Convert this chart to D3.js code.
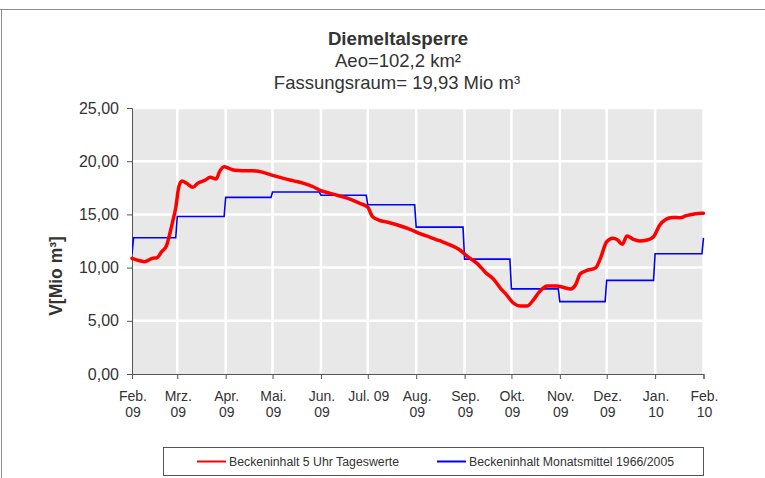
<!DOCTYPE html>
<html>
<head>
<meta charset="utf-8">
<script src="https://cdn.jsdelivr.net/npm/d3@7"></script>
<style>
  body { margin: 0; background: #fff; }
  text { font-family: "Liberation Sans", Arial, sans-serif; fill: #333; }
</style>
</head>
<body>
<svg id="chart" width="765" height="478"></svg>
<script>
// Beckeninhalt 5 Uhr Tageswerte
var dailyDates = [
  "2009-01-31", "2009-02-05", "2009-02-08", "2009-02-13", "2009-02-16", "2009-02-19",
  "2009-02-22", "2009-02-24", "2009-02-26", "2009-02-28", "2009-03-02", "2009-03-04",
  "2009-03-07", "2009-03-11", "2009-03-14", "2009-03-19", "2009-03-22", "2009-03-26",
  "2009-03-28", "2009-03-31", "2009-04-03", "2009-04-07", "2009-04-12", "2009-04-18",
  "2009-04-25", "2009-05-01", "2009-05-08", "2009-05-14", "2009-05-21", "2009-05-27",
  "2009-05-31", "2009-06-07", "2009-06-13", "2009-06-20", "2009-06-26", "2009-07-01",
  "2009-07-04", "2009-07-08", "2009-07-15", "2009-07-22", "2009-07-28", "2009-08-03",
  "2009-08-10", "2009-08-16", "2009-08-23", "2009-08-29", "2009-09-03", "2009-09-09",
  "2009-09-15", "2009-09-19", "2009-09-24", "2009-09-28", "2009-10-02", "2009-10-07",
  "2009-10-11", "2009-10-15", "2009-10-19", "2009-10-24", "2009-10-30", "2009-11-03",
  "2009-11-08", "2009-11-11", "2009-11-14", "2009-11-18", "2009-11-24", "2009-11-27",
  "2009-12-01", "2009-12-05", "2009-12-08", "2009-12-11", "2009-12-14", "2009-12-18",
  "2009-12-22", "2009-12-27", "2009-12-31", "2010-01-04", "2010-01-08", "2010-01-12",
  "2010-01-17", "2010-01-21", "2010-01-26", "2010-01-31", "2010-02-01"
];
var dailyValues = [
  10.87, 10.65, 10.56, 10.87, 10.93, 11.5,
  12.03, 13.06, 14.3, 15.6, 17.6, 18.14,
  17.92, 17.55, 17.92, 18.23, 18.48, 18.33,
  19.0, 19.48, 19.33, 19.14, 19.1, 19.1,
  18.95, 18.67, 18.39, 18.17, 17.92, 17.6,
  17.29, 16.98, 16.73, 16.42, 16.04, 15.67,
  14.79, 14.47, 14.22, 13.91, 13.6, 13.22,
  12.85, 12.53, 12.12, 11.65, 11.03, 10.4,
  9.46, 9.0, 8.05, 7.42, 6.7, 6.39,
  6.39, 6.95, 7.74, 8.27, 8.27, 8.15,
  7.99, 8.36, 9.4, 9.71, 9.99, 10.87,
  12.43, 12.75, 12.59, 12.19, 12.97, 12.66,
  12.5, 12.59, 12.9, 14.0, 14.54, 14.72,
  14.69, 14.88, 15.04, 15.1, 15.1
];

// Beckeninhalt Monatsmittel 1966/2005, Jan..Dez
var monthNames = ["Jan", "Feb", "Mrz", "Apr", "Mai", "Jun", "Jul", "Aug", "Sep", "Okt", "Nov", "Dez"];
var monthMeans = [11.3, 12.8, 14.8, 16.6, 17.1, 16.8, 15.9, 13.8, 10.8, 8.0, 6.8, 8.8];

var tickDates = [
  "2009-01-31", "2009-03-01", "2009-04-01", "2009-05-01", "2009-06-01", "2009-07-01", "2009-08-01",
  "2009-09-01", "2009-10-01", "2009-11-01", "2009-12-01", "2010-01-01", "2010-02-01"
];
var tickLabels = [
  ["Feb.", "09"], ["Mrz.", "09"], ["Apr.", "09"], ["Mai.", "09"], ["Jun.", "09"], ["Jul. 09"], ["Aug.", "09"],
  ["Sep.", "09"], ["Okt.", "09"], ["Nov.", "09"], ["Dez.", "09"], ["Jan.", "10"], ["Feb.", "10"]
];
var yTicks = [0, 5, 10, 15, 20, 25];

var titleLines = ["Diemeltalsperre", "Aeo=102,2 km²", "Fassungsraum= 19,93 Mio m³"];
var yLabel = "V[Mio m³]";
var legendLabels = ["Beckeninhalt 5 Uhr Tageswerte", "Beckeninhalt Monatsmittel 1966/2005"];

var parseDate = d3.timeParse("%Y-%m-%d");

var daily = dailyDates.map(function(d, i) {
  return { date: parseDate(d), value: dailyValues[i] };
});
var ticks = tickDates.map(parseDate);

// monthly mean held for every day of its month
var start = ticks[0];
var end = ticks[ticks.length - 1];
var meanSeries = d3.timeDay.range(start, d3.timeDay.offset(end, 1)).map(function(d) {
  return { date: d, value: monthMeans[d.getMonth()] };
});

var svg = d3.select("#chart");

var plot = { left: 132, right: 703.5, top: 108, bottom: 374 };

var x = d3.scaleTime().domain([start, end]).range([plot.left, plot.right]);
var y = d3.scaleLinear().domain([0, 25]).range([plot.bottom, plot.top]);

// outer frame of the chart object
svg.append("line")
  .attr("x1", 0).attr("x2", 765).attr("y1", 9.5).attr("y2", 9.5)
  .attr("stroke", "#8c8c8c");
svg.append("line")
  .attr("x1", 1.5).attr("x2", 1.5).attr("y1", 9.5).attr("y2", 478)
  .attr("stroke", "#8c8c8c");

// titles
var title = svg.append("g").attr("text-anchor", "middle");
title.append("text")
  .attr("x", 398).attr("y", 45)
  .style("font-size", "18.7px").style("font-weight", "bold")
  .text(titleLines[0]);
title.append("text")
  .attr("x", 398).attr("y", 67)
  .style("font-size", "18.5px")
  .text(titleLines[1]);
title.append("text")
  .attr("x", 397).attr("y", 89)
  .style("font-size", "18.5px")
  .text(titleLines[2]);

// plot area
svg.append("rect")
  .attr("x", plot.left).attr("y", plot.top)
  .attr("width", plot.right - plot.left).attr("height", plot.bottom - plot.top)
  .attr("fill", "#e8e8e8");

svg.append("g")
  .selectAll("line")
  .data(yTicks.slice(1))
  .enter()
  .append("line")
  .attr("x1", plot.left).attr("x2", plot.right)
  .attr("y1", function(d) { return y(d); })
  .attr("y2", function(d) { return y(d); })
  .attr("stroke", "#fff").attr("stroke-width", 2.5);

svg.append("g")
  .selectAll("line")
  .data(ticks.slice(1))
  .enter()
  .append("line")
  .attr("x1", function(d) { return x(d); })
  .attr("x2", function(d) { return x(d); })
  .attr("y1", plot.top).attr("y2", plot.bottom)
  .attr("stroke", "#fff").attr("stroke-width", 2.5);

// axes
var yAxis = d3.axisLeft(y)
  .tickValues(yTicks)
  .tickSize(5)
  .tickPadding(8)
  .tickFormat(function(d) { return d.toFixed(2).replace(".", ","); });

var gy = svg.append("g")
  .attr("transform", "translate(" + plot.left + ",0)")
  .call(yAxis);
gy.select(".domain").attr("stroke", "#555");
gy.selectAll(".tick line").attr("stroke", "#555");
gy.selectAll("text").style("font-size", "16px").attr("fill", "#333");

var xAxis = d3.axisBottom(x)
  .tickValues(ticks)
  .tickSize(5)
  .tickFormat("");

var gx = svg.append("g")
  .attr("transform", "translate(0," + plot.bottom + ")")
  .call(xAxis);
gx.select(".domain").attr("stroke", "#555");
gx.selectAll(".tick line").attr("stroke", "#555");

svg.append("g")
  .selectAll("text")
  .data(ticks)
  .enter()
  .append("text")
  .attr("text-anchor", "middle")
  .style("font-size", "14px")
  .each(function(d, i) {
    var t = d3.select(this);
    tickLabels[i].forEach(function(line, j) {
      t.append("tspan")
        .attr("x", x(d) + 1)
        .attr("y", 401 + j * 16)
        .text(line);
    });
  });

svg.append("text")
  .attr("transform", "translate(62,276) rotate(-90)")
  .attr("text-anchor", "middle")
  .style("font-size", "17.5px").style("font-weight", "bold")
  .text(yLabel);

// series
svg.append("clipPath").attr("id", "clip")
  .append("rect")
  .attr("x", plot.left).attr("y", plot.top - 5)
  .attr("width", plot.right - plot.left + 2).attr("height", plot.bottom - plot.top + 5);

var line = d3.line()
  .x(function(d) { return x(d.date); })
  .y(function(d) { return y(d.value); });

svg.append("path")
  .datum(meanSeries)
  .attr("clip-path", "url(#clip)")
  .attr("fill", "none")
  .attr("stroke", "#0000ff")
  .attr("stroke-width", 1.6)
  .attr("d", line);

svg.append("path")
  .datum(daily)
  .attr("fill", "none")
  .attr("stroke", "#ff0000")
  .attr("stroke-width", 3.5)
  .attr("stroke-linejoin", "round")
  .attr("stroke-linecap", "round")
  .attr("d", line.curve(d3.curveMonotoneX));

// legend
var legend = svg.append("g");
legend.append("rect")
  .attr("x", 163.5).attr("y", 447.5)
  .attr("width", 540).attr("height", 28)
  .attr("fill", "#fff").attr("stroke", "#555");

var legendItems = [
  { label: legendLabels[0], color: "#ff0000", x: 197 },
  { label: legendLabels[1], color: "#0000ff", x: 437 }
];
legendItems.forEach(function(item) {
  legend.append("line")
    .attr("x1", item.x).attr("x2", item.x + 29)
    .attr("y1", 461.5).attr("y2", 461.5)
    .attr("stroke", item.color).attr("stroke-width", 2);
  legend.append("text")
    .attr("x", item.x + 32).attr("y", 466)
    .style("font-size", "12.3px")
    .text(item.label);
});
</script>
</body>
</html>
